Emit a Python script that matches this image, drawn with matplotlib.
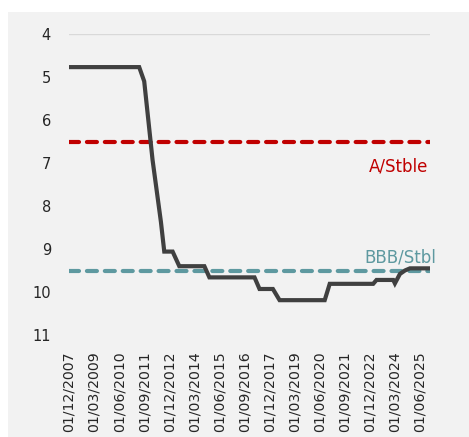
import pandas as pd
import matplotlib
matplotlib.use('Agg')
from matplotlib import pyplot as plt
from matplotlib.patches import Rectangle

# rating path (numeric scale, 4 = best) at the months where it changes
months = ['2007-12', '2011-06', '2011-09', '2012-02', '2012-07', '2012-09',
          '2013-02', '2013-06', '2014-09', '2014-12', '2017-03', '2017-06',
          '2018-02', '2018-06', '2020-09', '2020-12', '2023-02', '2023-04',
          '2024-02', '2024-03', '2024-06', '2024-09', '2024-12', '2025-12']
rating = [4.77, 4.77, 5.1, 6.93, 8.37, 9.06,
          9.06, 9.4, 9.4, 9.66, 9.66, 9.93,
          9.93, 10.19, 10.19, 9.81, 9.81, 9.72,
          9.72, 9.8, 9.58, 9.5, 9.45, 9.45]

a_level = 6.5
bbb_level = 9.5

tick_labels = ['01/12/2007', '01/03/2009', '01/06/2010', '01/09/2011',
               '01/12/2012', '01/03/2014', '01/06/2015', '01/09/2016',
               '01/12/2017', '01/03/2019', '01/06/2020', '01/09/2021',
               '01/12/2022', '01/03/2024', '01/06/2025']

# month index (category axis, one slot per month)
per = pd.PeriodIndex(months, freq='M')
start = per[0]
x = [(p - start).n for p in per]
x_end = x[-1]
tick_pos = [(pd.Period('%s-%s' % (t[6:], t[3:5]), freq='M') - start).n
            for t in tick_labels]

plt.rcParams['font.family'] = ['DejaVu Sans']
txt_col = '#262626'

fig = plt.figure(figsize=(4.69, 4.37), dpi=100)
fig.patch.set_facecolor('white')
fig.patches.append(Rectangle((8/469., 0), 1, (437-12)/437., transform=fig.transFigure,
                             facecolor='#f2f2f2', edgecolor='none', zorder=-10))

ax = fig.add_axes([69/469., 1-335/437., 361/469., 301/437.])
ax.set_facecolor('none')

ax.axhline(4, color='#d9d9d9', lw=1, zorder=1)

dash = (0, (2.4, 1.9))
ax.plot([0, x_end], [a_level]*2, color='#c00000', lw=3,
        linestyle=dash, dash_capstyle='round', zorder=2)
ax.plot([0, x_end], [bbb_level]*2, color='#5e99a0', lw=3,
        linestyle=dash, dash_capstyle='round', zorder=2)
ax.plot(x, rating, color='#404040', lw=3, solid_capstyle='round',
        solid_joinstyle='miter', zorder=3)

ax.text(215, 7.07, 'A/Stble', color='#c00000', fontsize=12,
        ha='right', va='center')
ax.text(220, 9.19, 'BBB/Stbl', color='#5e99a0', fontsize=12,
        ha='right', va='center', clip_on=False)

ax.set_xlim(0, x_end)
ax.set_ylim(11, 4)
ax.set_yticks(range(4, 12))
ax.set_yticklabels([str(v) for v in range(4, 12)], fontsize=10.5, color=txt_col)
ax.set_xticks(tick_pos)
ax.set_xticklabels(tick_labels, rotation=90, fontsize=10.2, color=txt_col)
ax.tick_params(axis='both', length=0)
ax.tick_params(axis='y', pad=13)
ax.tick_params(axis='x', pad=12)
for s in ax.spines.values():
  s.set_visible(False)

plt.savefig('out.png', dpi=100, facecolor=fig.get_facecolor())
